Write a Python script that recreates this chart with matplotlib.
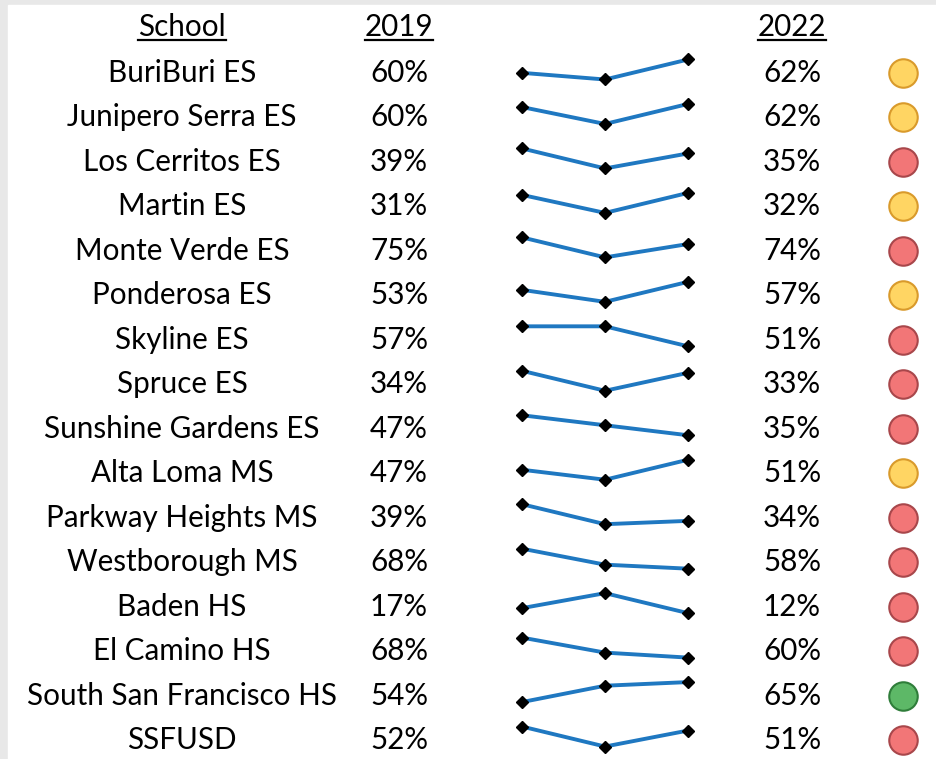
import matplotlib.pyplot as plt
from matplotlib.patches import Rectangle
from matplotlib.lines import Line2D

plt.rcParams['font.family'] = ['Lato', 'DejaVu Sans']

schools = ['BuriBuri ES', 'Junipero Serra ES', 'Los Cerritos ES', 'Martin ES',
           'Monte Verde ES', 'Ponderosa ES', 'Skyline ES', 'Spruce ES',
           'Sunshine Gardens ES', 'Alta Loma MS', 'Parkway Heights MS',
           'Westborough MS', 'Baden HS', 'El Camino HS',
           'South San Francisco HS', 'SSFUSD']
pct_2019 = [60, 60, 39, 31, 75, 53, 57, 34, 47, 47, 39, 68, 17, 68, 54, 52]
# middle point of the sparkline
pct_mid = [59, 49, 23, 22, 72, 47, 57, 24, 41, 43, 33, 60, 32, 62, 63, 47]
pct_2022 = [62, 62, 35, 32, 74, 57, 51, 33, 35, 51, 34, 58, 12, 60, 65, 51]
status = ['yellow', 'yellow', 'red', 'yellow', 'red', 'yellow', 'red', 'red',
          'red', 'yellow', 'red', 'red', 'red', 'red', 'green', 'red']

W, H = 936, 759
face = {'yellow': '#FFD563', 'red': '#F27677', 'green': '#5DB867'}
edge = {'yellow': '#D99A2B', 'red': '#A8474B', 'green': '#2F7D3A'}

fig = plt.figure(figsize=(W / 100, H / 100), dpi=100)
ax = fig.add_axes([0, 0, 1, 1])
ax.set_xlim(0, W)
ax.set_ylim(H, 0)
ax.axis('off')
ax.add_patch(Rectangle((0, 0), W, H, color='#E8E8E8', zorder=0))
ax.add_patch(Rectangle((8, 5), W, H, color='white', zorder=0))

fs = 21.3
x_school, x_2019, x_2022, x_dot = 182, 399, 792, 903
y_head, y0, dy = 27, 73, 44.47

headers = []
for x, label in [(x_school, 'School'), (x_2019, '2019'), (x_2022, '2022')]:
    headers.append(ax.text(x, y_head, label, ha='center', va='center', fontsize=fs))

for i, name in enumerate(schools):
    y = y0 + i * dy
    ax.text(x_school, y, name, ha='center', va='center', fontsize=fs)
    ax.text(x_2019, y, f'{pct_2019[i]}%', ha='center', va='center', fontsize=fs)
    ax.text(x_2022, y, f'{pct_2022[i]}%', ha='center', va='center', fontsize=fs)
    ax.scatter(x_dot, y, s=420, color=face[status[i]], edgecolors=edge[status[i]],
               linewidths=1.5, zorder=3)

    # sparkline
    yc = y - 3.5
    sp = fig.add_axes([522 / W, 1 - (yc + 10) / H, 166 / W, 20 / H])
    vals = [pct_2019[i], pct_mid[i], pct_2022[i]]
    sp.plot([0, 1, 2], vals, color='#1F78C1', lw=2.8, marker='D', ms=6,
            mfc='black', mec='black', clip_on=False)
    sp.set_xlim(0, 2)
    lo, hi = min(vals), max(vals)
    if lo == hi:
        hi = lo + 1
    sp.set_ylim(lo, hi)
    sp.axis('off')

# underline the headers
fig.canvas.draw()
r = fig.canvas.get_renderer()
for t in headers:
    bb = t.get_window_extent(renderer=r)
    yb = bb.y0 + 1
    fig.add_artist(Line2D([bb.x0 / W, bb.x1 / W], [yb / H, yb / H],
                          color='black', lw=1.6, transform=fig.transFigure))

fig.savefig('out.png', dpi=100)
